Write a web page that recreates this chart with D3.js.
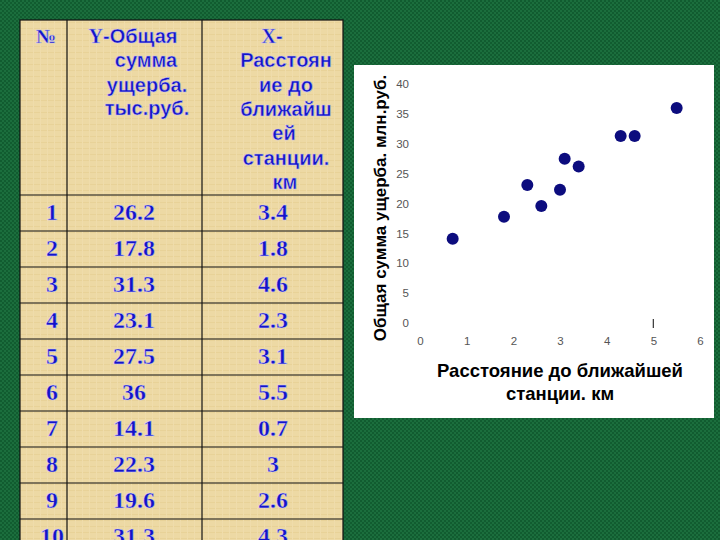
<!DOCTYPE html>
<html><head><meta charset="utf-8">
<script src="https://cdn.jsdelivr.net/npm/d3@7"></script>
<style>html,body{margin:0;padding:0;background:#17653a;overflow:hidden}</style>
</head><body>
<script>
const rowIds = [1,2,3,4,5,6,7,8,9,10];
const damageY = [26.2,17.8,31.3,23.1,27.5,36,14.1,22.3,19.6,31.3];
const distanceX = [3.4,1.8,4.6,2.3,3.1,5.5,0.7,3,2.6,4.3];
const yValueLabels = ["26.2","17.8","31.3","23.1","27.5","36","14.1","22.3","19.6","31.3"];
const xValueLabels = ["3.4","1.8","4.6","2.3","3.1","5.5","0.7","3","2.6","4.3"];
const xTicks = [0,1,2,3,4,5,6];
const yTicks = [0,5,10,15,20,25,30,35,40];
const xTitle = ["Расстояние до ближайшей","станции. км"];
const yTitle = "Общая сумма ущерба. млн.руб.";

const W=720,H=540;
const svg=d3.select("body").append("svg").attr("width",W).attr("height",H);
const defs=svg.append("defs");
const pg=defs.append("pattern").attr("id","bg").attr("width",4).attr("height",4).attr("patternUnits","userSpaceOnUse");
pg.append("rect").attr("width",4).attr("height",4).attr("fill","#1b6e3d");
pg.append("rect").attr("width",2).attr("height",2).attr("fill","#115c30");
pg.append("rect").attr("x",2).attr("y",2).attr("width",2).attr("height",2).attr("fill","#115c30");
svg.append("rect").attr("width",W).attr("height",H).attr("fill","url(#bg)");

const pt=defs.append("pattern").attr("id","paper").attr("width",7).attr("height",6).attr("patternUnits","userSpaceOnUse");
pt.append("rect").attr("width",7).attr("height",6).attr("fill","#edd9a4");
pt.append("rect").attr("y",4).attr("width",7).attr("height",1).attr("fill","#e8d298");
pt.append("rect").attr("x",5).attr("width",1).attr("height",6).attr("fill","#efdcab");

// ---- Table ----
const colX=[20,67,202,343];
const headTop=20, headBot=195, rowH=36;
const tbl=svg.append("g");
tbl.append("rect").attr("x",colX[0]).attr("y",headTop).attr("width",colX[3]-colX[0]).attr("height",H-headTop+5)
  .attr("fill","url(#paper)").attr("stroke","#111").attr("stroke-width",1.2);
colX.slice(1,3).forEach(x=>tbl.append("line").attr("x1",x).attr("x2",x).attr("y1",headTop).attr("y2",H).attr("stroke","#111").attr("stroke-width",1.2));
const rowLines=d3.range(0,rowIds.length).map(i=>headBot+i*rowH);
rowLines.forEach(y=>tbl.append("line").attr("x1",colX[0]).attr("x2",colX[3]).attr("y1",y).attr("y2",y).attr("stroke","#111").attr("stroke-width",1.2));

const blue="#1414c8";
const serif="Liberation Serif, Times New Roman, serif";
function htxt(t,x,y,fam,lead){
  const tx=tbl.append("text").attr("x",x).attr("y",y).attr("text-anchor","middle").attr("dominant-baseline","middle")
   .attr("font-family",fam||"Liberation Sans, Arial, sans-serif").attr("font-weight","bold").attr("font-size",20)
   .attr("fill",blue).attr("stroke","#c0c0f0").attr("stroke-width",0.5);
  if(lead){tx.append("tspan").attr("font-family",serif).text(lead);}
  tx.append("tspan").text(t);
}
htxt("№",46,38,serif);
const h2=[["-Общая",133,38,"Y"],["сумма",146,62],["ущерба.",147,87],["тыс.руб.",147,110]];
h2.forEach(d=>htxt(d[0],d[1],d[2],null,d[3]));
const h3=[["-",272,38,"X"],["Расстоян",286,62],["ие до",286,87],["ближайш",286,111],["ей",284,135],["станции.",286,160],["км",285,184]];
h3.forEach(d=>htxt(d[0],d[1],d[2],null,d[3]));

rowIds.forEach((id,i)=>{
  const cy=headBot+i*rowH+rowH/2+1;
  [[String(id),52],[yValueLabels[i],134],[xValueLabels[i],273]].forEach(c=>{
    tbl.append("text").attr("x",c[1]).attr("y",cy).attr("text-anchor","middle").attr("dominant-baseline","middle")
     .attr("font-family",serif).attr("font-weight","bold").attr("font-size",24)
     .attr("fill",blue).attr("stroke","#d0d0ff").attr("stroke-width",0.4).text(c[0]);
  });
});

// ---- Chart ----
svg.append("rect").attr("x",354).attr("y",65).attr("width",360).attr("height",353).attr("fill","#ffffff");
const x=d3.scaleLinear().domain([0,6]).range([420,700]);
const y=d3.scaleLinear().domain([0,40]).range([323,84]);

const ax=svg.append("g").attr("transform","translate(0,323)")
  .call(d3.axisBottom(x).tickValues(xTicks).tickSize(0).tickPadding(14).tickFormat(d3.format("d")));
const ay=svg.append("g").attr("transform","translate(409,0)")
  .call(d3.axisLeft(y).tickValues(yTicks).tickSize(0).tickPadding(0).tickFormat(d3.format("d")));
[ax,ay].forEach(a=>{a.select(".domain").remove();
  a.selectAll("text").attr("font-family","Liberation Sans, Arial, sans-serif").attr("font-size",11.5).attr("fill","#555");});

// stray tick mark near x=5
svg.append("line").attr("x1",x(5)).attr("x2",x(5)).attr("y1",319).attr("y2",328).attr("stroke","#333").attr("stroke-width",1.2);

svg.append("g").selectAll("circle").data(distanceX).join("circle")
  .attr("cx",d=>x(d)).attr("cy",(d,i)=>y(damageY[i])).attr("r",6).attr("fill","#0c0c7e");

svg.append("text").attr("text-anchor","middle").attr("font-family","Liberation Sans, Arial, sans-serif")
  .attr("font-weight","bold").attr("font-size",18.5).attr("fill","#000")
  .selectAll("tspan").data(xTitle).join("tspan").attr("x",560).attr("y",(d,i)=>377+i*23).text(d=>d);

svg.append("text").attr("transform","translate(386,208) rotate(-90)").attr("text-anchor","middle")
  .attr("font-family","Liberation Sans, Arial, sans-serif").attr("font-weight","bold").attr("font-size",17)
  .attr("fill","#000").text(yTitle);
</script>
</body></html>
